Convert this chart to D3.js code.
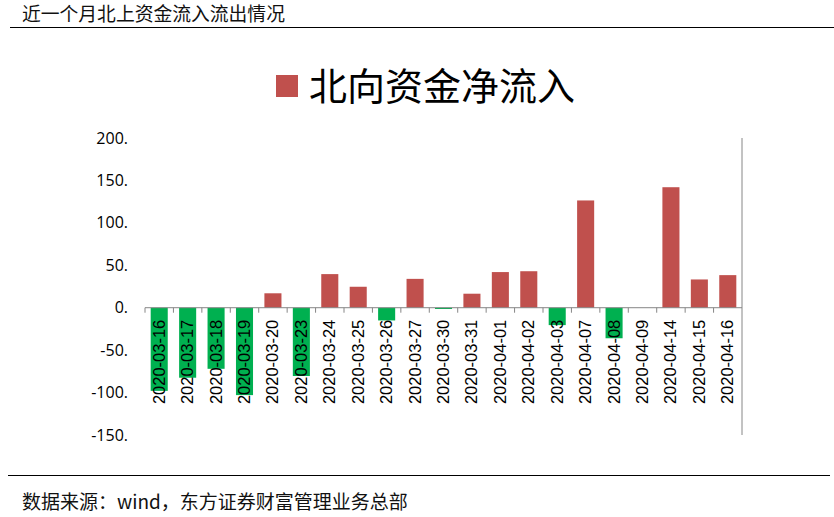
<!DOCTYPE html>
<html><head><meta charset="utf-8">
<script src="https://cdn.jsdelivr.net/npm/d3@7/dist/d3.min.js"></script>
<style>body{margin:0;background:#fff;}svg{display:block;}</style>
</head><body>
<svg id="c" width="834" height="517"></svg>
<script>
const categories = ["2020-03-16","2020-03-17","2020-03-18","2020-03-19","2020-03-20","2020-03-23","2020-03-24","2020-03-25","2020-03-26","2020-03-27","2020-03-30","2020-03-31","2020-04-01","2020-04-02","2020-04-03","2020-04-07","2020-04-08","2020-04-09","2020-04-14","2020-04-15","2020-04-16"];
const values = [-98,-82.5,-72,-103,17,-80.5,39.6,24.7,-15,34,-1.5,16.5,42,43,-20.5,126.4,-36,0,142,33.3,38.4];
const yTicks = [200,150,100,50,0,-50,-100,-150];
const seriesName = "北向资金净流入";
const chartTitle = "近一个月北上资金流入流出情况";
const sourceText = "数据来源：wind，东方证券财富管理业务总部";

(function(){
const svg = d3.select("#c");
const pl = 145, pr = 742, pt = 138, pb = 435;
const x = d3.scaleBand().domain(categories).range([pl, pr]).paddingInner(0.4).paddingOuter(0.2);
const y = d3.scaleLinear().domain([-150, 200]).range([pb, pt]);
const cjk = "'Noto Sans CJK SC', sans-serif";

svg.append("text").attr("x", 22).attr("y", 21).attr("font-family", cjk).attr("font-size", 18.8).attr("fill", "#111").text(chartTitle);
svg.append("line").attr("x1", 10).attr("x2", 834).attr("y1", 27.5).attr("y2", 27.5).attr("stroke", "#000").attr("stroke-width", 1.2);

svg.append("rect").attr("x", 276).attr("y", 75).attr("width", 22).attr("height", 22).attr("fill", "#C0504D");
svg.append("text").attr("x", 309).attr("y", 99.5).attr("font-family", cjk).attr("font-size", 38).attr("fill", "#000").text(seriesName);

const yAxis = d3.axisLeft(y).tickValues(yTicks).tickSize(0).tickPadding(0).tickFormat(d => d + ".");
const ya = svg.append("g").attr("transform", "translate(128,0)").call(yAxis);
ya.select(".domain").remove();
ya.selectAll("text").attr("font-family", "'Open Sans', sans-serif").attr("font-size", 16).attr("fill", "#000");

svg.append("g").selectAll("rect").data(values).join("rect")
  .attr("x", (d, i) => x(categories[i]))
  .attr("width", x.bandwidth())
  .attr("y", d => y(Math.max(0, d)))
  .attr("height", d => Math.abs(y(d) - y(0)))
  .attr("fill", d => d >= 0 ? "#C0504D" : "#00B050");

const gap = (x.step() - x.bandwidth()) / 2;
const xa = svg.append("g");
xa.append("line").attr("x1", pl).attr("x2", pr).attr("y1", y(0)).attr("y2", y(0)).attr("stroke", "#868686");
xa.selectAll("line.tk").data(categories).join("line").attr("class", "tk")
  .attr("x1", d => x(d) - gap).attr("x2", d => x(d) - gap)
  .attr("y1", y(0)).attr("y2", y(0) + 5).attr("stroke", "#868686");
xa.selectAll("text").data(categories).join("text")
  .attr("transform", d => `translate(${x(d) + x.bandwidth() / 2 + 5.5},${y(0) + 12}) rotate(-90)`)
  .attr("text-anchor", "end")
  .attr("font-family", "'Liberation Sans', Arial, sans-serif").attr("font-size", 16.5).attr("fill", "#000")
  .text(d => d);

svg.append("line").attr("x1", pr).attr("x2", pr).attr("y1", pt).attr("y2", pb).attr("stroke", "#868686");

svg.append("line").attr("x1", 8).attr("x2", 830).attr("y1", 475.5).attr("y2", 475.5).attr("stroke", "#000").attr("stroke-width", 1.2);
svg.append("text").attr("x", 22).attr("y", 509).attr("font-family", cjk).attr("font-size", 19).attr("fill", "#111").text(sourceText);
})();
</script>
</body></html>
